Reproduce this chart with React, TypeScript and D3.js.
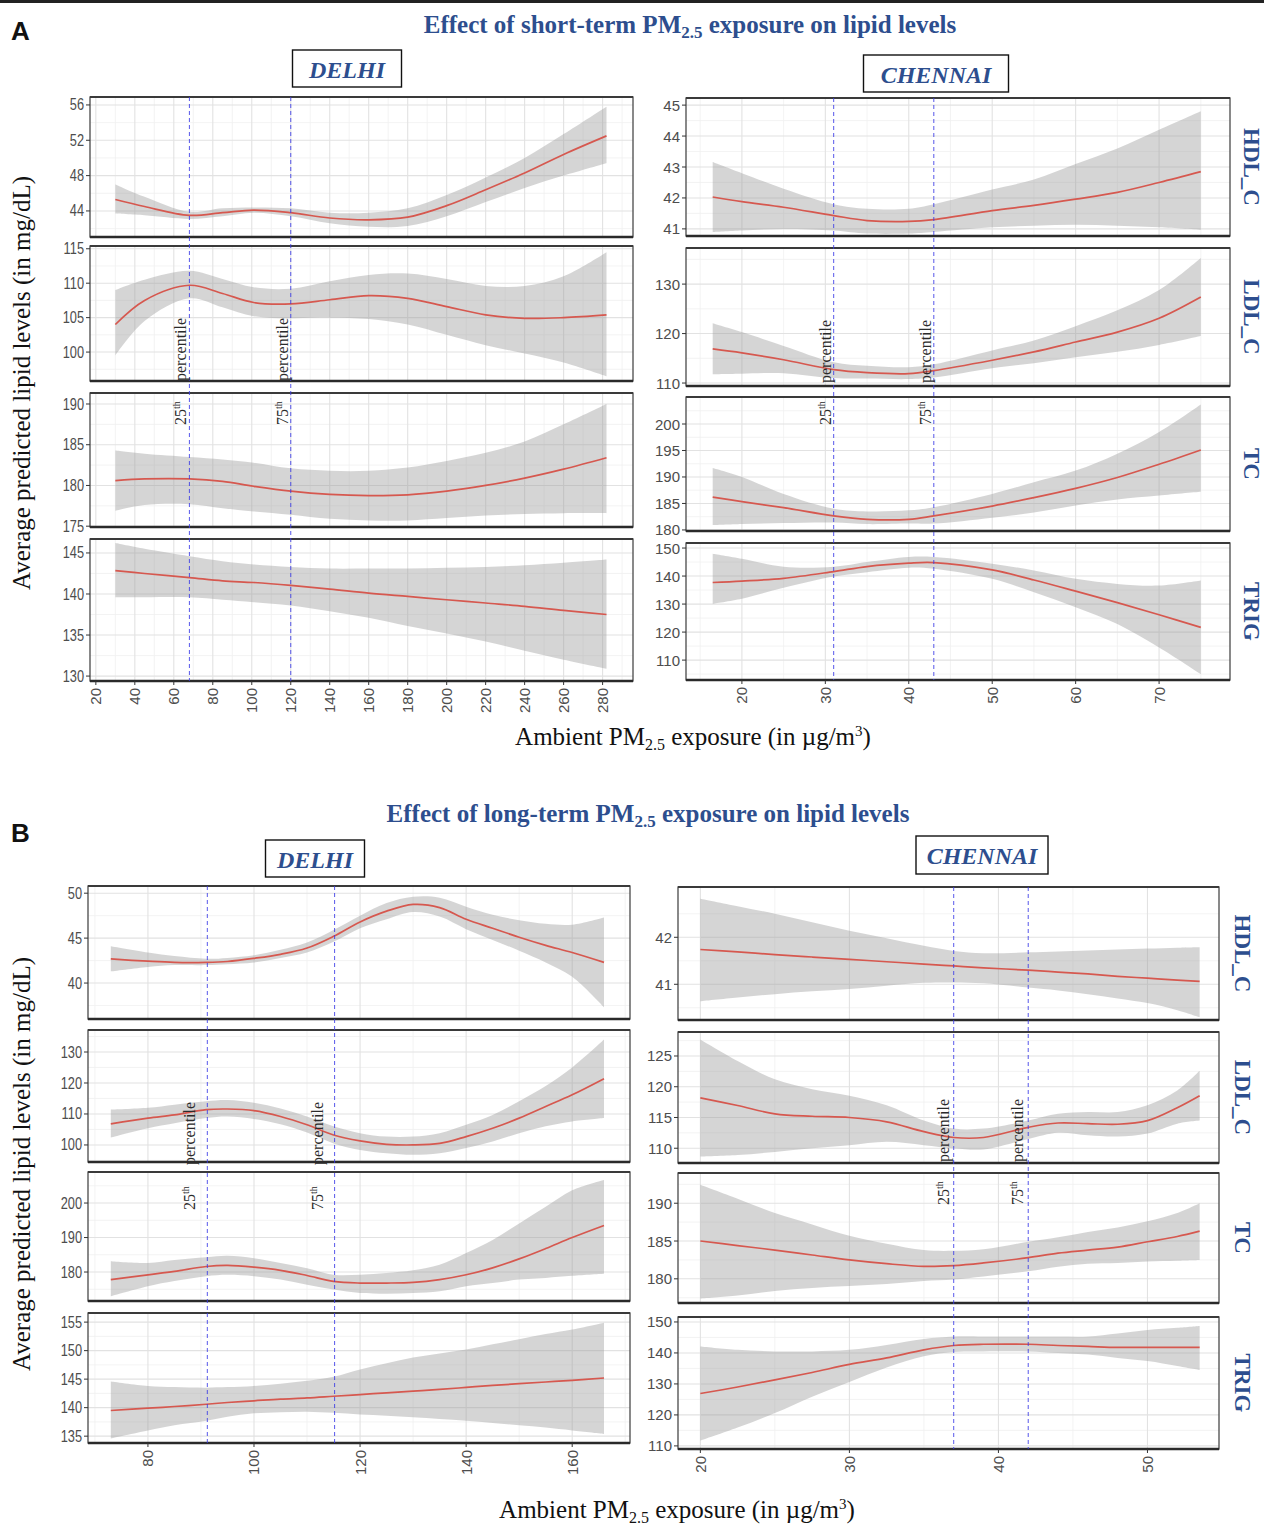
import React from 'react';
import * as d3 from 'd3';

// ---------- data ----------
// Panel A: short-term exposure, Delhi
const delhiShortPm = [30, 45, 68, 85, 101, 120, 140, 160, 180, 200, 220, 240, 260, 282];
const delhiShortHdl = [45.3, 44.5, 43.5, 43.8, 44.1, 43.8, 43.2, 43.0, 43.3, 44.6, 46.4, 48.3, 50.4, 52.5];
const delhiShortHdlLo = [43.7, 43.5, 43.1, 43.4, 43.8, 43.4, 42.6, 42.2, 42.3, 43.4, 45.0, 46.6, 48.0, 49.4];
const delhiShortHdlHi = [47.0, 45.6, 43.9, 44.3, 44.4, 44.3, 43.8, 43.8, 44.3, 45.8, 47.8, 50.0, 52.7, 55.8];
const delhiShortLdl = [104.0, 107.5, 109.7, 108.5, 107.2, 107.0, 107.6, 108.2, 107.8, 106.6, 105.4, 104.9, 105.0, 105.4];
const delhiShortLdlLo = [99.5, 104.5, 107.8, 106.5, 105.2, 104.9, 105.0, 104.8, 104.0, 102.5, 101.0, 99.8, 98.5, 96.5];
const delhiShortLdlHi = [109.0, 110.5, 111.8, 110.6, 109.4, 109.2, 110.3, 111.2, 111.4, 110.6, 109.6, 109.6, 111.0, 114.5];
const delhiShortTc = [180.6, 180.8, 180.8, 180.5, 179.9, 179.3, 178.9, 178.75, 178.85, 179.3, 180.0, 180.9, 182.0, 183.4];
const delhiShortTcLo = [176.9, 177.6, 177.7, 177.2, 176.8, 176.4, 175.9, 175.7, 175.7, 176.0, 176.3, 176.5, 176.6, 176.6];
const delhiShortTcHi = [184.3, 183.9, 183.5, 183.2, 182.8, 182.1, 181.8, 181.8, 182.2, 183.0, 184.0, 185.4, 187.5, 190.0];
const delhiShortTrig = [142.85, 142.5, 142.0, 141.6, 141.4, 141.05, 140.6, 140.1, 139.7, 139.3, 138.9, 138.5, 138.0, 137.5];
const delhiShortTrigLo = [139.6, 139.6, 139.6, 139.3, 139.0, 138.6, 137.9, 137.1, 136.1, 135.2, 134.2, 133.1, 132.0, 130.9];
const delhiShortTrigHi = [146.2, 145.5, 144.6, 144.0, 143.6, 143.3, 143.1, 143.1, 143.1, 143.2, 143.3, 143.5, 143.8, 144.2];

// Panel A: short-term exposure, Chennai
const chennaiShortPm = [16.5, 20, 25, 31, 35, 40, 43, 50, 55, 60, 65, 70, 75];
const chennaiShortHdl = [42.03, 41.88, 41.7, 41.43, 41.27, 41.24, 41.3, 41.59, 41.76, 41.96, 42.18, 42.5, 42.85];
const chennaiShortHdlLo = [40.9, 40.95, 41.0, 40.95, 40.85, 40.85, 40.9, 41.05, 41.1, 41.13, 41.1, 41.05, 40.97];
const chennaiShortHdlHi = [43.16, 42.8, 42.3, 41.8, 41.65, 41.65, 41.8, 42.27, 42.6, 43.1, 43.6, 44.2, 44.8];
const chennaiShortLdl = [116.9, 116.1, 114.7, 112.7, 112.1, 111.9, 112.5, 114.6, 116.3, 118.3, 120.3, 123.1, 127.4];
const chennaiShortLdlLo = [111.8, 111.9, 112.0, 111.0, 110.9, 110.8, 111.1, 113.0, 114.0, 115.2, 116.3, 117.7, 119.5];
const chennaiShortLdlHi = [122.1, 120.3, 117.5, 114.2, 113.5, 113.2, 113.8, 116.6, 118.6, 121.5, 124.7, 128.8, 135.3];
const chennaiShortTc = [186.2, 185.35, 184.2, 182.65, 182.0, 182.0, 182.65, 184.5, 186.1, 187.85, 189.9, 192.4, 195.1];
const chennaiShortTcLo = [180.9, 181.1, 181.3, 181.4, 181.1, 181.2, 181.2, 182.3, 183.3, 184.6, 185.75, 186.5, 187.2];
const chennaiShortTcHi = [191.7, 190.0, 186.8, 184.0, 183.5, 183.7, 184.3, 186.8, 189.0, 191.2, 194.4, 198.5, 203.7];
const chennaiShortTrig = [137.7, 138.2, 139.2, 141.6, 143.4, 144.6, 144.8, 142.2, 138.6, 134.6, 130.5, 126.2, 121.7];
const chennaiShortTrigLo = [130.1, 131.9, 135.8, 139.8, 141.4, 143.0, 142.6, 139.0, 134.2, 128.9, 122.9, 114.5, 105.0];
const chennaiShortTrigHi = [148.0, 146.2, 143.3, 143.3, 145.0, 146.8, 146.8, 144.4, 142.0, 139.0, 137.2, 136.6, 138.4];

// Panel B: long-term exposure, Delhi
const delhiLongPm = [73, 80, 85, 91, 95, 100, 105, 110, 115, 120, 125, 130, 135, 140, 145, 150, 155, 160, 166];
const delhiLongHdl = [42.68, 42.43, 42.3, 42.3, 42.4, 42.75, 43.2, 43.9, 45.2, 46.8, 48.0, 48.75, 48.4, 47.1, 46.1, 45.1, 44.2, 43.4, 42.3];
const delhiLongHdlLo = [41.3, 41.8, 42.0, 42.0, 42.1, 42.3, 42.8, 43.4, 44.6, 46.1, 47.1, 47.9, 47.4, 46.0, 44.8, 43.6, 42.3, 40.7, 37.3];
const delhiLongHdlHi = [44.1, 43.4, 43.0, 42.7, 42.8, 43.1, 43.7, 44.5, 45.9, 47.5, 48.9, 49.6, 49.5, 48.5, 47.6, 47.0, 46.6, 46.5, 47.3];
const delhiLongLdl = [106.8, 108.65, 109.7, 111.4, 111.6, 111.1, 109.2, 106.5, 103.2, 101.3, 100.2, 100.0, 100.5, 102.7, 105.4, 108.65, 112.4, 116.2, 121.4];
const delhiLongLdlLo = [102.4, 105.4, 107.0, 108.7, 109.2, 108.4, 106.7, 104.0, 100.5, 98.4, 97.3, 96.8, 97.3, 99.0, 101.1, 103.8, 106.0, 107.6, 108.7];
const delhiLongLdlHi = [111.4, 112.0, 113.0, 114.1, 114.5, 113.6, 111.8, 109.2, 106.0, 103.8, 102.7, 102.7, 103.8, 106.5, 109.7, 114.1, 119.0, 125.0, 134.0];
const delhiLongTc = [177.8, 179.2, 180.2, 181.6, 181.9, 181.4, 180.5, 179.0, 177.3, 176.8, 176.8, 177.0, 177.8, 179.2, 181.2, 183.8, 186.8, 190.0, 193.5];
const delhiLongTcLo = [173.0, 175.9, 177.4, 178.8, 179.2, 178.8, 177.8, 176.3, 174.9, 173.9, 173.7, 173.9, 174.4, 175.9, 176.8, 177.8, 178.3, 178.9, 179.5];
const delhiLongTcHi = [183.1, 182.6, 183.5, 184.3, 184.7, 184.0, 182.6, 181.1, 179.2, 179.2, 179.7, 180.5, 182.1, 185.5, 189.3, 194.1, 198.9, 203.7, 206.7];
const delhiLongTrig = [139.5, 139.9, 140.2, 140.6, 140.9, 141.2, 141.5, 141.7, 142.0, 142.3, 142.6, 142.9, 143.2, 143.55, 143.9, 144.2, 144.5, 144.8, 145.2];
const delhiLongTrigLo = [134.6, 136.0, 136.9, 137.7, 138.4, 139.0, 139.2, 139.3, 139.1, 138.8, 138.6, 138.3, 138.0, 137.7, 137.3, 136.9, 136.5, 136.0, 135.4];
const delhiLongTrigHi = [144.6, 143.8, 143.6, 143.5, 143.6, 143.8, 144.2, 144.7, 145.4, 146.7, 147.8, 148.8, 149.5, 150.2, 151.1, 152.0, 152.9, 153.7, 154.9];

// Panel B: long-term exposure, Chennai
const chennaiLongPm = [20, 22.5, 25, 27.5, 30, 32.5, 35, 37, 39, 42, 44, 46, 48, 50, 52, 53.5];
const chennaiLongHdl = [41.74, 41.69, 41.63, 41.58, 41.53, 41.48, 41.43, 41.39, 41.35, 41.3, 41.26, 41.22, 41.17, 41.13, 41.09, 41.06];
const chennaiLongHdlLo = [40.64, 40.72, 40.79, 40.85, 40.9, 40.97, 41.03, 41.04, 41.02, 40.93, 40.87, 40.79, 40.7, 40.6, 40.45, 40.3];
const chennaiLongHdlHi = [42.82, 42.66, 42.5, 42.32, 42.14, 41.98, 41.82, 41.71, 41.66, 41.68, 41.7, 41.72, 41.74, 41.76, 41.78, 41.79];
const chennaiLongLdl = [118.2, 116.95, 115.6, 115.2, 115.0, 114.3, 112.7, 111.75, 111.75, 113.4, 114.1, 114.0, 113.9, 114.5, 116.6, 118.55];
const chennaiLongLdlLo = [108.65, 108.9, 109.4, 110.0, 110.5, 111.05, 110.5, 110.0, 109.8, 111.5, 112.5, 112.1, 111.9, 112.4, 114.0, 114.5];
const chennaiLongLdlHi = [127.7, 124.2, 121.2, 119.6, 118.55, 117.0, 114.5, 113.2, 113.2, 114.5, 115.6, 115.9, 115.9, 117.0, 119.4, 122.6];
const chennaiLongTc = [185.0, 184.4, 183.8, 183.15, 182.5, 182.0, 181.65, 181.75, 182.1, 182.8, 183.4, 183.8, 184.2, 184.9, 185.6, 186.3];
const chennaiLongTcLo = [177.4, 177.8, 178.4, 178.8, 179.05, 179.3, 179.7, 179.9, 180.3, 181.0, 181.6, 182.0, 182.1, 182.3, 182.4, 182.5];
const chennaiLongTcHi = [192.45, 190.6, 188.7, 187.2, 185.7, 184.65, 183.8, 183.7, 183.9, 184.9, 185.5, 186.2, 186.8, 187.6, 188.7, 190.0];
const chennaiLongTrig = [126.9, 129.0, 131.3, 133.7, 136.3, 138.4, 141.0, 142.4, 142.8, 142.8, 142.4, 142.1, 141.8, 141.8, 141.8, 141.8];
const chennaiLongTrigLo = [111.7, 115.9, 120.6, 125.9, 130.6, 135.3, 138.9, 140.3, 140.5, 140.5, 140.0, 139.5, 138.4, 137.4, 135.8, 134.5];
const chennaiLongTrigHi = [142.1, 141.0, 140.5, 140.5, 141.0, 142.6, 144.5, 145.3, 145.3, 145.3, 145.3, 145.3, 146.3, 147.4, 148.1, 148.7];

// axis limits, ticks and percentile cut points
const lipidLabels = ['HDL_C', 'LDL_C', 'TC', 'TRIG'];
const delhiShortYDomains = [[41.05, 56.9], [95.8, 115.4], [174.9, 191.35], [129.4, 146.7]];
const delhiShortYTicks = [[44, 48, 52, 56], [100, 105, 110, 115], [175, 180, 185, 190], [130, 135, 140, 145]];
const chennaiShortYDomains = [[40.77, 45.23], [109.4, 137.3], [179.8, 205.1], [102.9, 151.8]];
const chennaiShortYTicks = [[41, 42, 43, 44, 45], [110, 120, 130], [180, 185, 190, 195, 200], [110, 120, 130, 140, 150]];
const delhiLongYDomains = [[36.0, 50.8], [94.5, 137.1], [171.6, 209], [133.8, 156.6]];
const delhiLongYTicks = [[40, 45, 50], [100, 110, 120, 130], [180, 190, 200], [135, 140, 145, 150, 155]];
const chennaiLongYDomains = [[40.24, 43.07], [107.6, 128.9], [176.8, 194], [109, 151.6]];
const chennaiLongYTicks = [[41, 42], [110, 115, 120, 125], [180, 185, 190], [110, 120, 130, 140, 150]];

const delhiShortXTicks = [20, 40, 60, 80, 100, 120, 140, 160, 180, 200, 220, 240, 260, 280];
const chennaiShortXTicks = [20, 30, 40, 50, 60, 70];
const delhiLongXTicks = [80, 100, 120, 140, 160];
const chennaiLongXTicks = [20, 30, 40, 50];
const delhiShortPct = [68, 120];
const chennaiShortPct = [31, 43];
const delhiLongPct = [91.2, 115.2];
const chennaiLongPct = [37, 42];
const pctNames = ['25', '75'];

// ---------- style ----------
const SERIF = '"Liberation Serif", "Times New Roman", serif';
const SANS = '"Liberation Sans", Arial, sans-serif';
const BLUE = '#2d4e8e';
const TICK_GREY = '#4d4d4d';

const groups = [
  {
    id: 'ds', pm: delhiShortPm,
    fits: [delhiShortHdl, delhiShortLdl, delhiShortTc, delhiShortTrig],
    los: [delhiShortHdlLo, delhiShortLdlLo, delhiShortTcLo, delhiShortTrigLo],
    his: [delhiShortHdlHi, delhiShortLdlHi, delhiShortTcHi, delhiShortTrigHi],
    yDomains: delhiShortYDomains, yTicks: delhiShortYTicks,
    xDomain: [17, 295.6], xTicks: delhiShortXTicks, pct: delhiShortPct,
    left: 90, right: 633, rows: [[97, 237], [246, 381], [393, 527], [539, 681]],
    strip: null, pctOffset: 3, wordY: 381, numY: 425, narrow: true,
  },
  {
    id: 'cs', pm: chennaiShortPm,
    fits: [chennaiShortHdl, chennaiShortLdl, chennaiShortTc, chennaiShortTrig],
    los: [chennaiShortHdlLo, chennaiShortLdlLo, chennaiShortTcLo, chennaiShortTrigLo],
    his: [chennaiShortHdlHi, chennaiShortLdlHi, chennaiShortTcHi, chennaiShortTrigHi],
    yDomains: chennaiShortYDomains, yTicks: chennaiShortYTicks,
    xDomain: [13.3, 78.5], xTicks: chennaiShortXTicks, pct: chennaiShortPct,
    left: 686, right: 1230, rows: [[98, 236], [248, 386], [397, 531], [543, 680]],
    strip: 1251, pctOffset: 3, wordY: 383, numY: 425, narrow: false,
  },
  {
    id: 'dl', pm: delhiLongPm,
    fits: [delhiLongHdl, delhiLongLdl, delhiLongTc, delhiLongTrig],
    los: [delhiLongHdlLo, delhiLongLdlLo, delhiLongTcLo, delhiLongTrigLo],
    his: [delhiLongHdlHi, delhiLongLdlHi, delhiLongTcHi, delhiLongTrigHi],
    yDomains: delhiLongYDomains, yTicks: delhiLongYTicks,
    xDomain: [68.7, 170.9], xTicks: delhiLongXTicks, pct: delhiLongPct,
    left: 88, right: 630, rows: [[886, 1019], [1030, 1162], [1172, 1301], [1313, 1443]],
    strip: null, pctOffset: 12, wordY: 1165, numY: 1210, narrow: true,
  },
  {
    id: 'cl', pm: chennaiLongPm,
    fits: [chennaiLongHdl, chennaiLongLdl, chennaiLongTc, chennaiLongTrig],
    los: [chennaiLongHdlLo, chennaiLongLdlLo, chennaiLongTcLo, chennaiLongTrigLo],
    his: [chennaiLongHdlHi, chennaiLongLdlHi, chennaiLongTcHi, chennaiLongTrigHi],
    yDomains: chennaiLongYDomains, yTicks: chennaiLongYTicks,
    xDomain: [18.5, 54.8], xTicks: chennaiLongXTicks, pct: chennaiLongPct,
    left: 678, right: 1219, rows: [[887, 1020], [1032, 1163], [1173, 1303], [1317, 1449]],
    strip: 1242, pctOffset: 5, wordY: 1162, numY: 1205, narrow: false,
  },
];

// minor breaks half-way between major ones, kept inside the limits
const minorBreaks = (ticks: number[], domain: number[]) => {
  const step = ticks[1] - ticks[0];
  return d3.range(ticks[0] - step / 2, ticks[ticks.length - 1] + step, step)
    .filter(v => v > domain[0] && v < domain[1]);
};

function Facet({ g, r }: any) {
  const [top, bottom] = g.rows[r];
  const x = d3.scaleLinear().domain(g.xDomain).range([g.left, g.right]);
  const y = d3.scaleLinear().domain(g.yDomains[r]).range([bottom, top]);
  const pm: number[] = g.pm;
  const fit: number[] = g.fits[r];
  const lo: number[] = g.los[r];
  const hi: number[] = g.his[r];
  const idx = d3.range(pm.length);
  const curve = d3.curveCatmullRom.alpha(0.5);
  const ribbon = d3.area<number>().x(i => x(pm[i])).y0(i => y(lo[i])).y1(i => y(hi[i])).curve(curve);
  const smooth = d3.line<number>().x(i => x(pm[i])).y(i => y(fit[i])).curve(curve);
  const yTicks: number[] = g.yTicks[r];
  const clipId = `clip-${g.id}-${r}`;
  const isLast = r === g.rows.length - 1;
  const sx = g.narrow ? 0.8 : 1;
  const yFont = g.narrow ? 16 : 15;

  return (
    <g>
      <defs>
        <clipPath id={clipId}>
          <rect x={g.left} y={top} width={g.right - g.left} height={bottom - top} />
        </clipPath>
      </defs>
      <rect x={g.left} y={top} width={g.right - g.left} height={bottom - top} fill="#fff" />
      <g clipPath={`url(#${clipId})`}>
        {minorBreaks(g.xTicks, g.xDomain).map(v => (
          <line key={'xm' + v} x1={x(v)} x2={x(v)} y1={top} y2={bottom} stroke="#f0f0f0" strokeWidth={0.8} />
        ))}
        {minorBreaks(yTicks, g.yDomains[r]).map(v => (
          <line key={'ym' + v} x1={g.left} x2={g.right} y1={y(v)} y2={y(v)} stroke="#f0f0f0" strokeWidth={0.8} />
        ))}
        {g.xTicks.map((v: number) => (
          <line key={'xM' + v} x1={x(v)} x2={x(v)} y1={top} y2={bottom} stroke="#e2e2e2" strokeWidth={1.1} />
        ))}
        {yTicks.map(v => (
          <line key={'yM' + v} x1={g.left} x2={g.right} y1={y(v)} y2={y(v)} stroke="#e2e2e2" strokeWidth={1.1} />
        ))}
        <path d={ribbon(idx) || ''} fill="#9a9a9a" fillOpacity={0.42} />
        <path d={smooth(idx) || ''} fill="none" stroke="#d6584f" strokeWidth={1.7} />
      </g>
      <rect x={g.left} y={top} width={g.right - g.left} height={bottom - top} fill="none" stroke="#4a4a4a" strokeWidth={1.3} />
      <line x1={g.left} x2={g.right} y1={bottom} y2={bottom} stroke="#2a2a2a" strokeWidth={2.4} />
      <line x1={g.left} x2={g.right} y1={top} y2={top} stroke="#3a3a3a" strokeWidth={1.8} />
      {yTicks.map(v => (
        <g key={'yt' + v}>
          <line x1={g.left - 4} x2={g.left} y1={y(v)} y2={y(v)} stroke="#333" strokeWidth={1} />
          <text transform={`translate(${g.left - 6},${y(v)}) scale(${sx},1)`} textAnchor="end" dominantBaseline="central"
            fontFamily={SANS} fontSize={yFont} fill={TICK_GREY}>{v}</text>
        </g>
      ))}
      {isLast && g.xTicks.map((v: number) => (
        <g key={'xt' + v}>
          <line x1={x(v)} x2={x(v)} y1={bottom} y2={bottom + 4} stroke="#333" strokeWidth={1} />
          <text transform={`translate(${x(v)},${bottom + 7}) rotate(-90)`} textAnchor="end" dominantBaseline="central"
            fontFamily={SANS} fontSize={15} fill={TICK_GREY}>{v}</text>
        </g>
      ))}
      {g.strip != null && (
        <text transform={`translate(${g.strip},${(top + bottom) / 2}) rotate(90)`} textAnchor="middle"
          dominantBaseline="central" fontFamily={SERIF} fontWeight="bold" fontSize={23} fill={BLUE}>
          {lipidLabels[r]}
        </text>
      )}
    </g>
  );
}

function Overlay({ g }: any) {
  const x = d3.scaleLinear().domain(g.xDomain).range([g.left, g.right]);
  const top = g.rows[0][0];
  const bottom = g.rows[g.rows.length - 1][1];
  return (
    <g>
      {g.pct.map((p: number, k: number) => (
        <g key={'pct' + k}>
          <line x1={x(p)} x2={x(p)} y1={top} y2={bottom} stroke="#3a3ae6" strokeOpacity={0.85}
            strokeWidth={1} strokeDasharray="4,3" />
          <text transform={`translate(${x(p) - g.pctOffset},${g.wordY}) rotate(-90)`}
            fontFamily={SERIF} fontSize={16} fill="#2b2b2b">percentile</text>
          <text transform={`translate(${x(p) - g.pctOffset},${g.numY}) rotate(-90)`}
            fontFamily={SERIF} fontSize={16} fill="#2b2b2b">
            {pctNames[k]}<tspan fontSize={10} dy={-6}>th</tspan>
          </text>
        </g>
      ))}
    </g>
  );
}

function CityBox({ cx, y, w, h, label }: any) {
  return (
    <g>
      <rect x={cx - w / 2} y={y} width={w} height={h} fill="#fff" stroke="#111" strokeWidth={1.4} />
      <text x={cx} y={y + h / 2 + 1} textAnchor="middle" dominantBaseline="central" fontFamily={SERIF}
        fontWeight="bold" fontStyle="italic" fontSize={24} fill={BLUE}>{label}</text>
    </g>
  );
}

function Title({ cx, y, term }: any) {
  return (
    <text x={cx} y={y} textAnchor="middle" fontFamily={SERIF} fontWeight="bold" fontSize={25} fill={BLUE}>
      {`Effect of ${term} PM`}<tspan fontSize={17} dy={5}>2.5</tspan><tspan dy={-5}> exposure on lipid levels</tspan>
    </text>
  );
}

function XLabel({ cx, y }: any) {
  return (
    <text x={cx} y={y} textAnchor="middle" fontFamily={SERIF} fontSize={25} fill="#111">
      Ambient PM<tspan fontSize={16} dy={5}>2.5</tspan><tspan dy={-5}> exposure (in µg/m</tspan>
      <tspan fontSize={15} dy={-9}>3</tspan><tspan dy={9}>)</tspan>
    </text>
  );
}

function YLabel({ x, cy }: any) {
  return (
    <text transform={`translate(${x},${cy}) rotate(-90)`} textAnchor="middle" fontFamily={SERIF}
      fontSize={25} fill="#111">Average predicted lipid levels (in mg/dL)</text>
  );
}

export default function App() {
  return (
    <svg width={1264} height={1525} viewBox="0 0 1264 1525"
      style={{ position: 'absolute', left: 0, top: 0, background: '#fff' }}>
      <rect x={0} y={0} width={1264} height={1525} fill="#fff" />
      <rect x={0} y={0} width={1264} height={3} fill="#222" />

      <text x={11} y={40} fontFamily={SANS} fontWeight="bold" fontSize={26} fill="#111">A</text>
      <text x={11} y={842} fontFamily={SANS} fontWeight="bold" fontSize={26} fill="#111">B</text>

      <Title cx={690} y={33} term="short-term" />
      <Title cx={648} y={822} term="long-term" />

      <CityBox cx={347} y={50} w={109} h={37} label="DELHI" />
      <CityBox cx={936} y={55} w={145} h={37} label="CHENNAI" />
      <CityBox cx={315} y={840} w={99} h={37} label="DELHI" />
      <CityBox cx={982} y={836} w={132} h={38} label="CHENNAI" />

      {groups.map(g => (
        <g key={g.id}>
          {g.rows.map((_, r) => <Facet key={r} g={g} r={r} />)}
          <Overlay g={g} />
        </g>
      ))}

      <YLabel x={30} cy={383} />
      <YLabel x={30} cy={1164} />
      <XLabel cx={693} y={745} />
      <XLabel cx={677} y={1518} />
    </svg>
  );
}
